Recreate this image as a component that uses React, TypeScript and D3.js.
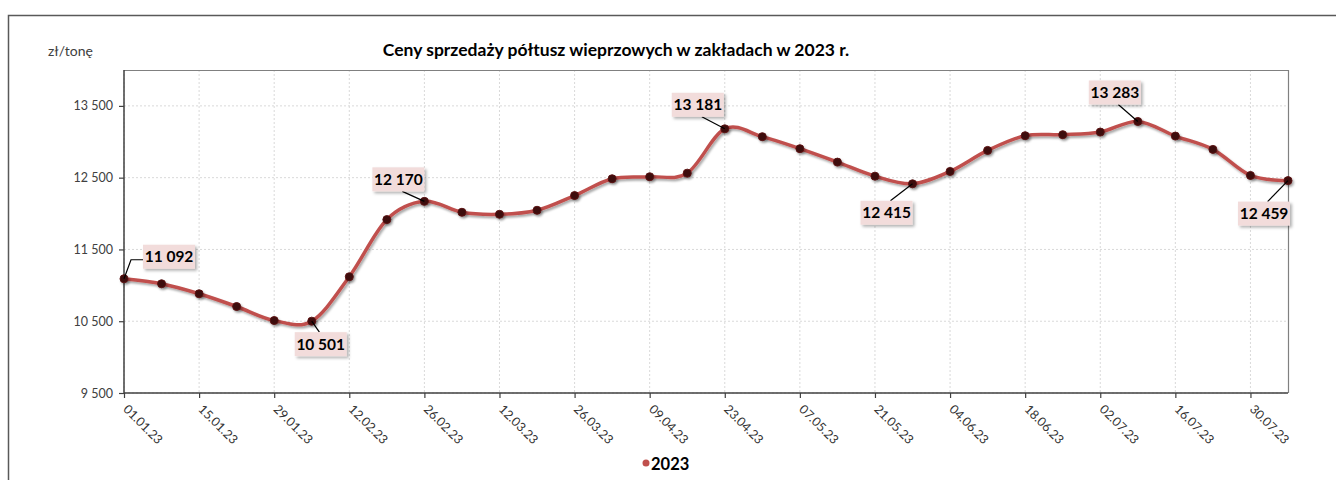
import React, { useEffect, useRef } from 'react';
import * as d3 from 'd3';

// weekly prices, 2023 (zł/tonę)
const weeks = [
  '01.01.23', '08.01.23', '15.01.23', '22.01.23', '29.01.23', '05.02.23', '12.02.23', '19.02.23',
  '26.02.23', '05.03.23', '12.03.23', '19.03.23', '26.03.23', '02.04.23', '09.04.23', '16.04.23',
  '23.04.23', '30.04.23', '07.05.23', '14.05.23', '21.05.23', '28.05.23', '04.06.23', '11.06.23',
  '18.06.23', '25.06.23', '02.07.23', '09.07.23', '16.07.23', '23.07.23', '30.07.23', '06.08.23',
];
const prices = [
  11092, 11022, 10883, 10705, 10510, 10501, 11120, 11916,
  12170, 12018, 11990, 12046, 12251, 12485, 12513, 12563,
  13181, 13071, 12904, 12717, 12521, 12415, 12587, 12880,
  13085, 13099, 13136, 13283, 13080, 12894, 12531, 12459,
];
const xTickLabels = [
  '01.01.23', '15.01.23', '29.01.23', '12.02.23', '26.02.23', '12.03.23', '26.03.23', '09.04.23',
  '23.04.23', '07.05.23', '21.05.23', '04.06.23', '18.06.23', '02.07.23', '16.07.23', '30.07.23',
];
const yTicks = [9500, 10500, 11500, 12500, 13500];
const labelledWeeks = ['01.01.23', '05.02.23', '26.02.23', '23.04.23', '28.05.23', '09.07.23', '06.08.23'];

const title = 'Ceny sprzedaży półtusz wieprzowych w zakładach w 2023 r.';
const unit = 'zł/tonę';
const seriesName = '2023';

// callout placement relative to its point (pixels)
const calloutOffsets = [
  { dx: 45, dy: -22, elbow: true },
  { dx: 9, dy: 23 },
  { dx: -26, dy: -22 },
  { dx: -27, dy: -24 },
  { dx: -26, dy: 29 },
  { dx: -23, dy: -29 },
  { dx: -24, dy: 33 },
];

const W = 1336;
const H = 480;
const FONT = 'Lato, "Open Sans", sans-serif';
const fmt = (v: number) => d3.format(',')(v).replace(/,/g, ' ');

export default function App() {
  const ref = useRef<SVGSVGElement>(null);

  useEffect(() => {
    const svg = d3.select(ref.current);
    svg.selectAll('*').remove();
    const parse = d3.timeParse('%d.%m.%y');
    const dates = weeks.map(d => parse(d) as Date);
    const data = dates.map((d, i) => ({ date: d, value: prices[i], key: weeks[i] }));

    const x = d3.scaleTime().domain([dates[0], dates[dates.length - 1]]).range([124, 1288]);
    const y = d3.scaleLinear().domain([9500, 14000]).range([393, 70]);

    const defs = svg.append('defs');
    const sh = defs.append('filter').attr('id', 'sh').attr('x', '-20%').attr('y', '-20%').attr('width', '140%').attr('height', '160%');
    sh.append('feDropShadow').attr('dx', 1.5).attr('dy', 2).attr('stdDeviation', 1.2).attr('flood-color', '#000').attr('flood-opacity', 0.35);
    const sh2 = defs.append('filter').attr('id', 'sh2').attr('x', '-20%').attr('y', '-20%').attr('width', '140%').attr('height', '160%');
    sh2.append('feDropShadow').attr('dx', 2).attr('dy', 2).attr('stdDeviation', 1.5).attr('flood-color', '#000').attr('flood-opacity', 0.3);

    // outer frame
    svg.append('path').attr('d', `M8.5,${H} V15.5 H${W}`).attr('fill', 'none').attr('stroke', '#595959').attr('stroke-width', 1.5);

    // title and unit
    svg.append('text').attr('x', 616).attr('y', 56).attr('text-anchor', 'middle')
      .attr('font-family', FONT).attr('font-weight', 'bold').attr('font-size', 17.5).attr('fill', '#000').text(title);
    svg.append('text').attr('x', 48).attr('y', 56)
      .attr('font-family', FONT).attr('font-size', 14).attr('fill', '#404040').text(unit);

    // grid
    const tickDates = xTickLabels.map(d => parse(d) as Date);
    svg.append('g').selectAll('line').data(tickDates).enter().append('line')
      .attr('x1', d => x(d)).attr('x2', d => x(d)).attr('y1', 70).attr('y2', 393)
      .attr('stroke', '#d9d9d9').attr('stroke-dasharray', '2,2');
    svg.append('g').selectAll('line').data(yTicks).enter().append('line')
      .attr('x1', 124).attr('x2', 1288).attr('y1', d => y(d)).attr('y2', d => y(d))
      .attr('stroke', '#d9d9d9').attr('stroke-dasharray', '2,2');

    // plot border top/right
    svg.append('path').attr('d', 'M124,70.5 H1288.5 V393').attr('fill', 'none').attr('stroke', '#808080').attr('stroke-width', 1.2);

    // axes
    const yAxis = d3.axisLeft(y).tickValues(yTicks).tickSize(5).tickPadding(6).tickFormat(d => fmt(d as number));
    const gy = svg.append('g').attr('transform', 'translate(124,0)').call(yAxis);
    gy.select('.domain').remove();
    gy.append('line').attr('x1', 0).attr('x2', 0).attr('y1', 70).attr('y2', 393).attr('stroke', '#404040').attr('stroke-width', 1.5);
    gy.selectAll('.tick line').attr('stroke', '#404040').attr('stroke-width', 1.2);
    gy.selectAll('.tick text').attr('font-family', FONT).attr('font-size', 12.5).attr('fill', '#404040');

    const xAxis = d3.axisBottom(x).tickValues(tickDates).tickSize(5).tickFormat((_, i) => xTickLabels[i]);
    const gx = svg.append('g').attr('transform', 'translate(0,393)').call(xAxis);
    gx.select('.domain').remove();
    gx.append('line').attr('x1', 124).attr('x2', 1288).attr('stroke', '#404040').attr('stroke-width', 1.5);
    gx.selectAll('.tick line').attr('stroke', '#404040').attr('stroke-width', 1.2);
    gx.selectAll('.tick text')
      .attr('font-family', FONT).attr('font-size', 12.5).attr('fill', '#333')
      .attr('text-anchor', 'start').attr('x', 0).attr('y', 0).attr('dy', 0)
      .attr('transform', 'translate(-2,17) rotate(45)');

    // line
    const line = d3.line<{ date: Date; value: number }>()
      .x(d => x(d.date)).y(d => y(d.value))
      .curve(d3.curveCardinal.tension(0));
    svg.append('path').datum(data).attr('d', line).attr('fill', 'none')
      .attr('stroke', '#C0504D').attr('stroke-width', 3.5).attr('filter', 'url(#sh)');

    svg.append('g').attr('filter', 'url(#sh)').selectAll('circle').data(data).enter().append('circle')
      .attr('cx', d => x(d.date)).attr('cy', d => y(d.value)).attr('r', 4)
      .attr('fill', '#3d0b0b').attr('stroke', '#5a1414').attr('stroke-width', 1);

    // callouts
    const bw = 52;
    const bh = 24;
    labelledWeeks.forEach((wk, i) => {
      const d = data.find(p => p.key === wk)!;
      const off = calloutOffsets[i];
      const px = x(d.date);
      const py = y(d.value);
      const cx = px + off.dx;
      const cy = py + off.dy;
      let path: string;
      if (off.elbow) {
        path = `M${px},${py} L${px + 7},${cy + 3} H${cx - bw / 2}`;
      } else {
        const ey = off.dy < 0 ? cy + bh / 2 : cy - bh / 2;
        path = `M${px},${py} L${cx + (px - cx) * 0.15},${ey}`;
      }
      svg.append('path').attr('d', path).attr('fill', 'none').attr('stroke', '#000').attr('stroke-width', 1.2);
      svg.append('rect').attr('x', cx - bw / 2).attr('y', cy - bh / 2).attr('width', bw).attr('height', bh)
        .attr('fill', '#F2DCDB').attr('filter', 'url(#sh2)');
      svg.append('text').attr('x', cx).attr('y', cy).attr('dy', '0.36em').attr('text-anchor', 'middle')
        .attr('font-family', FONT).attr('font-weight', 'bold').attr('font-size', 15.5).attr('fill', '#000')
        .text(fmt(d.value));
    });

    // legend
    svg.append('circle').attr('cx', 646).attr('cy', 463).attr('r', 3.5).attr('fill', '#C0504D');
    svg.append('text').attr('x', 651).attr('y', 470)
      .attr('font-family', FONT).attr('font-weight', 'bold').attr('font-size', 16.5).attr('fill', '#000').text(seriesName);
  }, []);

  return (
    <div style={{ position: 'absolute', left: 0, top: 0 }}>
      <svg ref={ref} width={W} height={H} style={{ display: 'block', background: '#fff' }} />
    </div>
  );
}
